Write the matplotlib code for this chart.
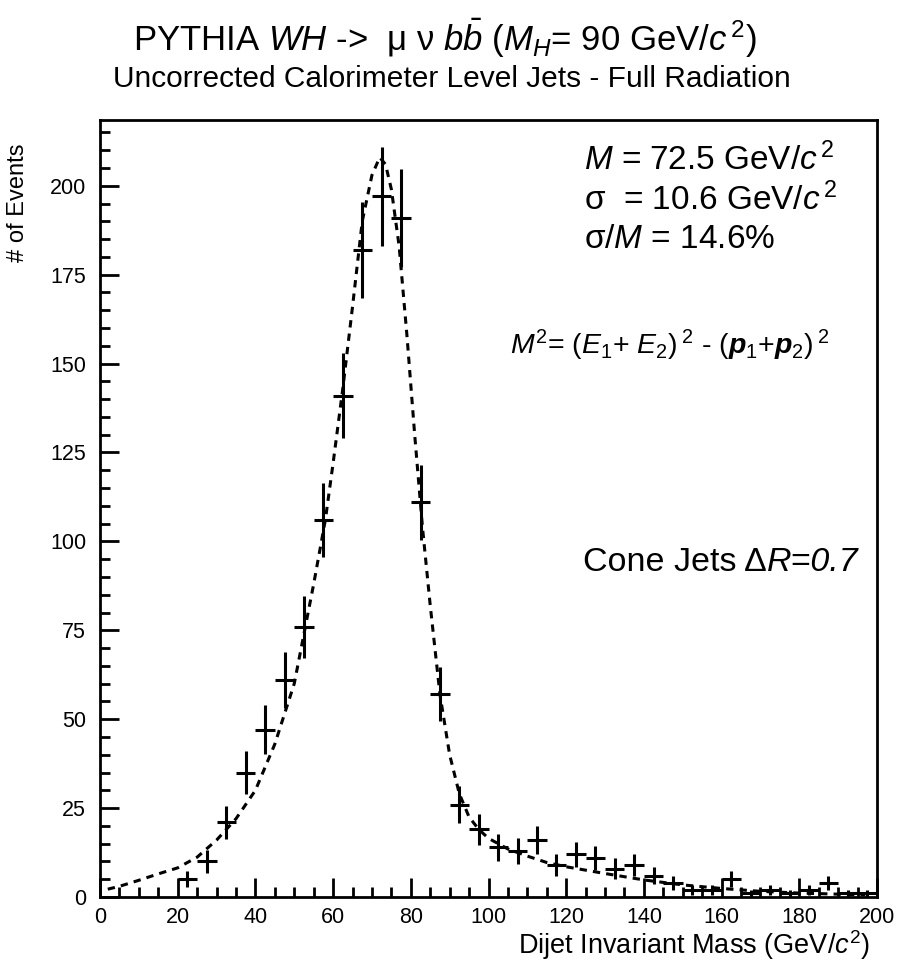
import numpy as np
import matplotlib
matplotlib.use("Agg")
import matplotlib.pyplot as plt

# histogram contents (bin centres, 5 GeV bins)
mass_bins = [22.5, 27.5, 32.5, 37.5, 42.5, 47.5, 52.5, 57.5, 62.5, 67.5,
             72.5, 77.5, 82.5, 87.5, 92.5, 97.5, 102.5, 107.5, 112.5, 117.5,
             122.5, 127.5, 132.5, 137.5, 142.5, 147.5, 152.5, 157.5, 162.5, 167.5,
             172.5, 177.5, 182.5, 187.5, 192.5, 197.5]
events = [5, 10, 21, 35, 47, 61, 76, 106, 141, 182,
          197, 191, 111, 57, 26, 19, 14, 13, 16, 9,
          12, 11, 8, 9, 6, 4, 2, 2, 5, 1,
          2, 1, 2, 4, 1, 1]

# fitted curve
fit_x = [2, 5, 10, 15, 20, 25, 30, 35, 40, 45, 50, 55, 58, 60, 62.5, 65, 67.5,
         70, 72, 73.5, 75, 77, 79, 81, 83, 85, 87.5, 90, 92.5, 95, 97.5, 100,
         105, 110, 115, 120, 130, 140, 150, 160, 170, 180, 190, 197]
fit_y = [2.2, 3.0, 4.7, 6.5, 8.2, 11.2, 16, 22, 30, 43, 60, 88, 106, 122, 143,
         166, 190, 203, 208, 206, 199, 183, 158, 130, 104, 82, 57, 40, 29, 22.5,
         19, 16.5, 13.5, 11.5, 9.7, 8.5, 6.6, 4.8, 3.4, 2.4, 1.6, 1.1, 0.8, 0.6]

plt.rcParams['font.family'] = ['Liberation Sans', 'DejaVu Sans']
plt.rcParams['mathtext.fontset'] = 'custom'
plt.rcParams['mathtext.rm'] = 'Liberation Sans'
plt.rcParams['mathtext.it'] = 'Liberation Sans:italic'
plt.rcParams['mathtext.bf'] = 'Liberation Sans:bold:italic'

W, H = 899, 964
fig = plt.figure(figsize=(W / 100, H / 100), dpi=100)
ax = fig.add_axes([100 / W, 1 - 897 / H, 777 / W, 777 / H])


def px(x, y):
    return x / W, 1 - y / H


x = np.array(mass_bins)
y = np.array(events, dtype=float)
ax.errorbar(x, y, yerr=np.sqrt(y), xerr=2.5, fmt='none', ecolor='black',
            elinewidth=2.2, capsize=0)
ax.plot(fit_x, fit_y, color='black', lw=2.2, linestyle=(0, (2.4, 2.0)))

ax.set_xlim(0, 200)
ax.set_ylim(0, 218.5)
ax.set_xticks(np.arange(0, 201, 20))
ax.set_xticks(np.arange(0, 201, 5), minor=True)
ax.set_yticks(np.arange(0, 201, 25))
ax.set_yticks(np.arange(0, 216, 5), minor=True)
ax.tick_params(which='both', direction='in', width=2, labelsize=15.5,
               top=False, right=False)
ax.tick_params(which='major', length=14)
ax.tick_params(which='minor', length=7)
ax.tick_params(axis='x', pad=7)
ax.tick_params(axis='y', pad=10)
for s in ax.spines.values():
    s.set_linewidth(2)

fig.text(*px(445, 38), r'PYTHIA $WH$ ->  μ ν $b\bar{b}$ ($M_H$= 90 GeV/$c^{\,2}$)',
         ha='center', va='center', fontsize=25)
fig.text(*px(452, 79), 'Uncorrected Calorimeter Level Jets - Full Radiation',
         ha='center', va='center', fontsize=21.5)

fig.text(*px(18, 143), '# of Events', rotation=90, ha='center', va='top',
         fontsize=17)
fig.text(*px(870, 945), r'Dijet Invariant Mass (GeV/$c^2$)', ha='right',
         va='center', fontsize=19.5)

fig.text(*px(584, 160), r'$M$ = 72.5 GeV/$c^{\,2}$', ha='left', va='center',
         fontsize=24)
fig.text(*px(584, 200), r'σ  = 10.6 GeV/$c^{\,2}$', ha='left', va='center',
         fontsize=24)
fig.text(*px(584, 240), r'σ/$M$ = 14.6%', ha='left', va='center',
         fontsize=24)
fig.text(*px(510, 345),
         r'$M^2$= ($E_1$+ $E_2$)$\,^2$ - ($\mathbf{p}_1$+$\mathbf{p}_2$)$\,^2$',
         ha='left', va='center', fontsize=20.5)

t = fig.text(*px(583, 578), 'Cone Jets Δ', ha='left', va='bottom', fontsize=24.5)
ax.annotate('R=0.7', xy=(1, 0), xycoords=t, ha='left', va='bottom',
            fontsize=24.5, fontstyle='italic')

fig.savefig('out.png', dpi=100)
